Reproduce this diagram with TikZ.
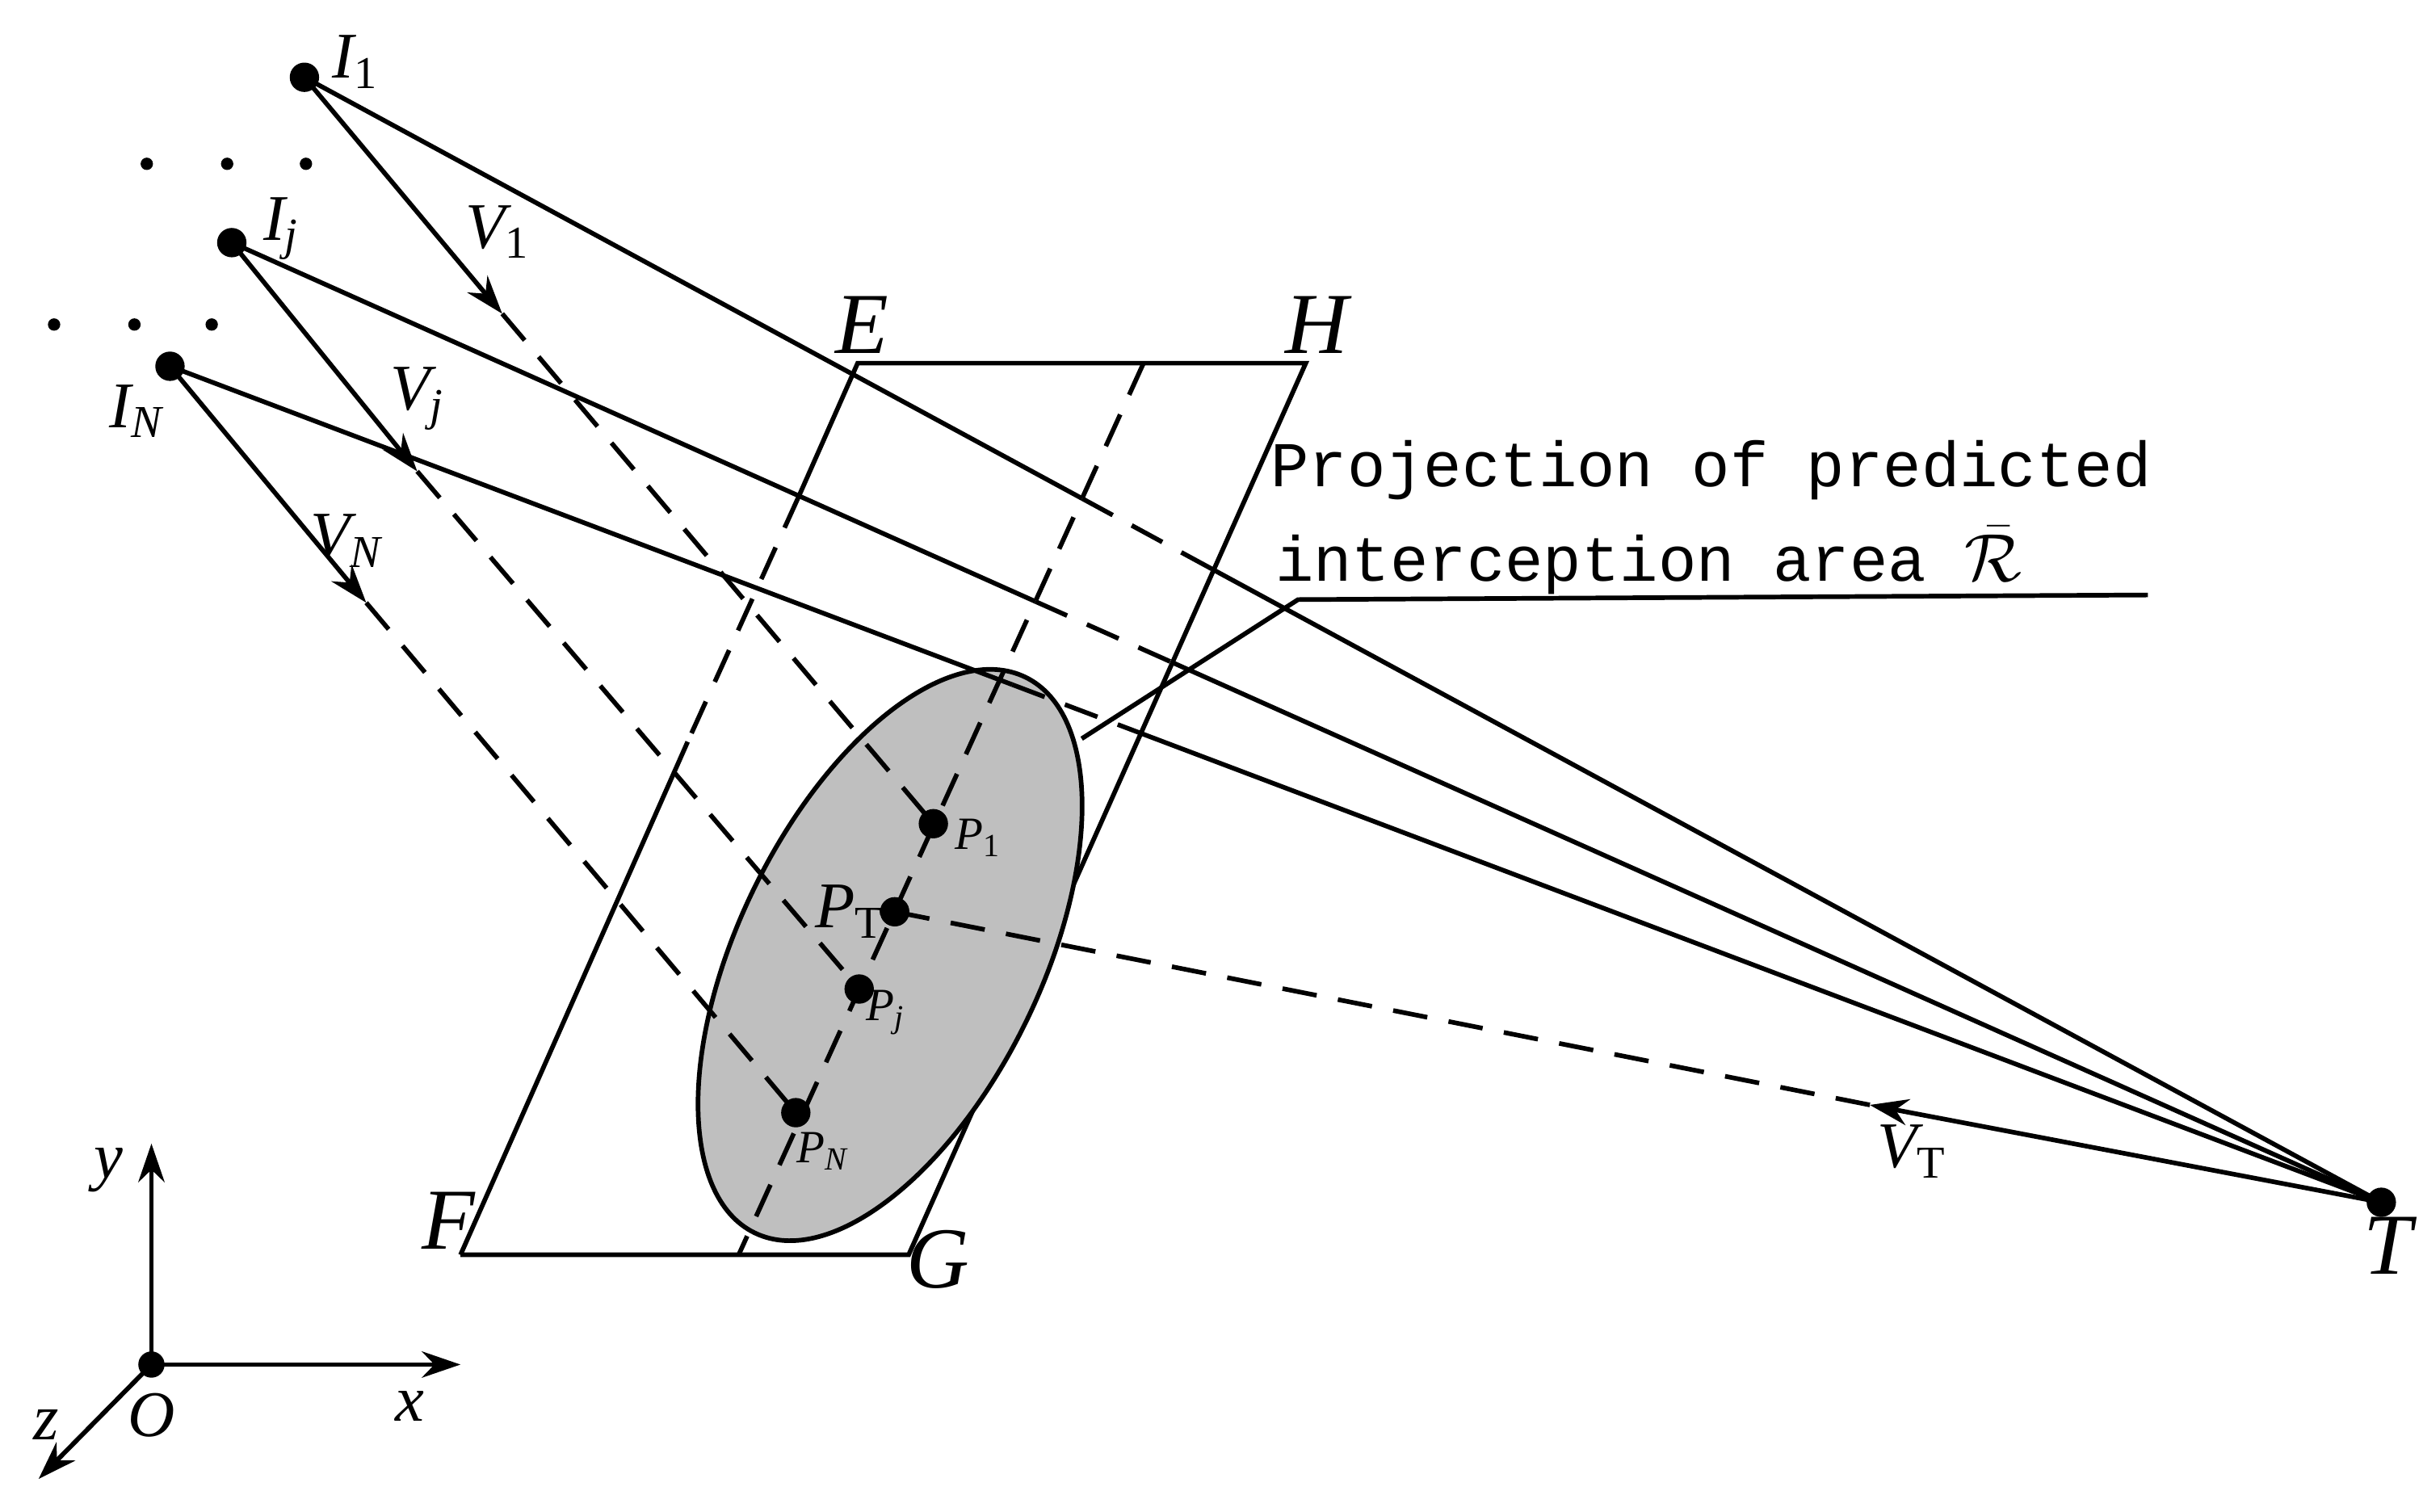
\documentclass[tikz,border=0pt]{standalone}
\usepackage{fontspec}
\setmainfont{Liberation Serif}
\newfontfamily\monof{Liberation Mono}
\usetikzlibrary{arrows.meta}
\begin{document}
\begin{tikzpicture}[x=0.02cm,y=-0.02cm,
  ln/.style={line width=1.7pt},
  dsh/.style={line width=1.7pt,dash pattern=on 0.45cm off 0.28cm},
  arr/.style={line width=1.7pt,-{Stealth[length=0.5cm,width=0.34cm]}},
  pt/.style={circle,fill=black,inner sep=0pt,minimum size=0.38cm},
  sdot/.style={circle,fill=black,inner sep=0pt,minimum size=0.16cm},
  lab/.style={font=\fontsize{24}{24}\selectfont\itshape,inner sep=0pt},
  big/.style={font=\fontsize{32}{32}\selectfont\itshape,inner sep=0pt},
  sml/.style={font=\fontsize{17}{17}\selectfont\itshape,inner sep=0pt}]
\useasboundingbox (0,0) rectangle (1568,978);
% points
\coordinate (I1) at (197,50);
\coordinate (Ij) at (150,157);
\coordinate (IN) at (110,237);
\coordinate (T) at (1541,778);
\coordinate (E) at (555,235);
\coordinate (H) at (845,235);
\coordinate (G) at (588,812);
\coordinate (F) at (298,812);
\coordinate (Dt) at (740,235);
\coordinate (Db) at (478,812);
\coordinate (P1) at (604,533);
\coordinate (PT) at (579,590);
\coordinate (Pj) at (556,640);
\coordinate (PN) at (515,720);
\coordinate (A1) at (325,203);
\coordinate (Aj) at (270,305);
\coordinate (AN) at (237,390);
\coordinate (AT) at (1210,715);
\coordinate (c) at (576,618);
% parallelogram
\draw[ln] (F) -- (G) -- (H) -- (E) -- (517,321);
\draw[dsh] (517,321) -- (445,480);
\draw[ln] (445,480) -- (F);
% ellipse
\draw[ln,fill=black!25,rotate around={64:(c)}] (c) ellipse [x radius=200,y radius=98];
\draw[dsh] (Dt) -- (Db);
% lines to T
\draw[ln] (I1) -- (700.3,322.6);
\draw[dsh] (700.3,322.6) -- (785.6,368.9);
\draw[ln] (785.6,368.9) -- (T);
\draw[ln] (Ij) -- (670,389.2);
\draw[dsh] (670,389.2) -- (758.7,428.7);
\draw[ln] (758.7,428.7) -- (T);
\draw[ln] (IN) -- (655,443);
\draw[dsh] (655,443) -- (738.3,474.5);
\draw[ln] (738.3,474.5) -- (T);
% velocity vectors
\draw[arr] (I1) -- (A1);
\draw[dsh] (A1) -- (P1);
\draw[arr] (Ij) -- (Aj);
\draw[dsh] (Aj) -- (Pj);
\draw[arr] (IN) -- (AN);
\draw[dsh] (AN) -- (PN);
\draw[arr] (T) -- (AT);
\draw[dsh] (AT) -- (PT);
% leader
\coordinate (L0) at (700,478);
\coordinate (L1) at (840,388);
\coordinate (L2) at (1390,385);
\draw[ln] (L0) -- (L1) -- (L2);
\node[anchor=base west,inner sep=0pt,font=\monof\fontsize{23.5}{23.5}\selectfont] (t1) at (822,315) {Projection of predicted};
\node[anchor=base west,inner sep=0pt,font=\monof\fontsize{23.5}{23.5}\selectfont] (t2) at (825,376) {interception area $\bar{\mathcal{R}}$};
% dots
\foreach \p [count=\i] in {I1,Ij,IN,P1,PT,Pj,PN,T} \node[pt] (n\i) at (\p) {};
\foreach \x/\y [count=\i] in {95/106,147/106,198/106,35/210,87/210,137/210} \node[sdot] (d\i) at (\x,\y) {};
% labels
\node[lab] (lI1) at (230,40) {I\textsubscript{\upshape 1}};
\node[lab] (lIj) at (182,148) {I\textsubscript{\itshape j}};
\node[lab] (lIN) at (88,266) {I\textsubscript{\itshape N}};
\node[lab] (lV1) at (322,150) {V\textsubscript{\upshape 1}};
\node[lab] (lVj) at (270,258) {V\textsubscript{\itshape j}};
\node[lab] (lVN) at (224,350) {V\textsubscript{\itshape N}};
\node[lab] (lVT) at (1237,745) {V\textsubscript{\upshape T}};
\node[big] (lE) at (558,210) {E};
\node[big] (lH) at (852,210) {H};
\node[big] (lF) at (290,790) {F};
\node[big] (lG) at (607,815) {G};
\node[big] (lT) at (1545,806) {T};
\node[sml] (lP1) at (633,542) {P\textsubscript{\upshape 1}};
\node[lab] (lPT) at (550,590) {P\textsubscript{\upshape T}};
\node[sml] (lPj) at (573,655) {P\textsubscript{\itshape j}};
\node[sml] (lPN) at (532,745) {P\textsubscript{\itshape N}};
% axes
\coordinate (O) at (98,883);
\coordinate (Ay) at (98,740);
\coordinate (Ax) at (298,883);
\coordinate (Az) at (25,957);
\draw[arr] (O) -- (Ay);
\draw[arr] (O) -- (Ax);
\draw[arr] (O) -- (Az);
\node[pt,minimum size=0.34cm] (nO) at (O) {};
\node[lab] (ly) at (70,757) {y};
\node[lab] (lx) at (265,910) {x};
\node[lab] (lz) at (30,922) {z};
\node[lab] (lO) at (98,916) {O};
\end{tikzpicture}
\end{document}
